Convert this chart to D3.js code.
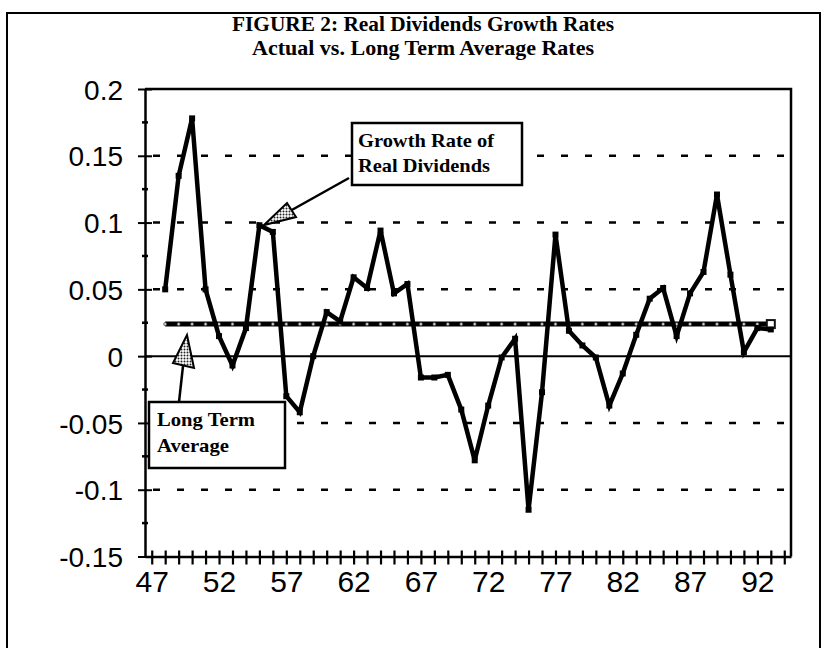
<!DOCTYPE html>
<html><head><meta charset="utf-8">
<script src="https://cdn.jsdelivr.net/npm/d3@7"></script>
<style>
html,body{margin:0;padding:0;background:#fff;}
svg{display:block;}
</style></head>
<body>
<svg id="chart" width="823" height="648"></svg>
<script>
// ---- data ----
const axisYears = [47,48,49,50,51,52,53,54,55,56,57,58,59,60,61,62,63,64,65,66,67,68,69,70,71,72,73,74,75,76,77,78,79,80,81,82,83,84,85,86,87,88,89,90,91,92,93,94];
const dataYears = [48,49,50,51,52,53,54,55,56,57,58,59,60,61,62,63,64,65,66,67,68,69,70,71,72,73,74,75,76,77,78,79,80,81,82,83,84,85,86,87,88,89,90,91,92,93];
const growthRates = [0.050,0.135,0.178,0.050,0.015,-0.007,0.021,0.098,0.093,-0.030,
  -0.042,0.000,0.033,0.026,0.059,0.051,0.094,0.047,0.054,-0.016,
  -0.016,-0.014,-0.040,-0.078,-0.037,-0.001,0.013,-0.115,-0.027,0.091,
  0.019,0.008,-0.001,-0.037,-0.013,0.016,0.043,0.051,0.015,0.047,
  0.063,0.121,0.061,0.003,0.021,0.020];
const longTermAverage = 0.024;
const xTickLabels = [47,52,57,62,67,72,77,82,87,92];
const yTicks = [0.2,0.15,0.1,0.05,0,-0.05,-0.1,-0.15];
const yMinorTicks = [0.175,0.125,0.075,0.025,-0.025,-0.075,-0.125];
const gridValues = [0.15,0.1,0.05,-0.05,-0.1];
const titleLines = ["FIGURE 2: Real Dividends Growth Rates","Actual vs. Long Term Average Rates"];

// ---- layout ----
const svg = d3.select("#chart");
const L = 145, R = 791, T = 89, B = 556.5;
const x = d3.scalePoint().domain(axisYears).range([L, R]).padding(0.5);
const y = d3.scaleLinear().domain([-0.15, 0.2]).range([B, T]);

const defs = svg.append("defs");
const pat = defs.append("pattern").attr("id","dots").attr("width",3).attr("height",3).attr("patternUnits","userSpaceOnUse");
pat.append("rect").attr("width",3).attr("height",3).attr("fill","#fff");
pat.append("circle").attr("cx",1.5).attr("cy",1.5).attr("r",1).attr("fill","#222");

// outer frame
svg.append("rect").attr("x",7).attr("y",13).attr("width",813).attr("height",700)
  .attr("fill","none").attr("stroke","#000").attr("stroke-width",2);

// title
svg.selectAll("text.title").data(titleLines).join("text")
  .attr("class","title")
  .attr("x",423).attr("y",(d,i)=>31+i*24)
  .attr("text-anchor","middle")
  .attr("font-family","'Liberation Serif','Times New Roman',serif")
  .attr("font-weight","bold").attr("font-size",22)
  .attr("textLength",(d,i)=> i===0 ? 382 : 342)
  .attr("lengthAdjust","spacingAndGlyphs")
  .text(d=>d);

// gridlines
svg.append("g").selectAll("line").data(gridValues).join("line")
  .attr("x1",L).attr("x2",R).attr("y1",d=>y(d)).attr("y2",d=>y(d))
  .attr("stroke","#000").attr("stroke-width",2.5).attr("stroke-dasharray","7,17")
  .attr("stroke-dashoffset",-8);

// plot border (top, right)
svg.append("path").attr("d",`M${L},${T}H${R}V${B}`).attr("fill","none").attr("stroke","#000").attr("stroke-width",2.5);

// zero line
svg.append("line").attr("x1",L).attr("x2",R).attr("y1",y(0)).attr("y2",y(0))
  .attr("stroke","#000").attr("stroke-width",2);

// y axis
const yAxis = d3.axisLeft(y).tickValues(yTicks).tickSize(0).tickPadding(22)
  .tickFormat(d=> d===0 ? "0" : String(+d.toFixed(2)));
const gy = svg.append("g").attr("transform",`translate(${L},0)`).call(yAxis);
gy.select(".domain").attr("stroke","#000").attr("stroke-width",2.5);
gy.selectAll(".tick text").attr("font-family","'Liberation Sans',Arial,sans-serif")
  .attr("font-size",28).attr("fill","#000").attr("dy","0.36em");
gy.selectAll(".tick").append("line").attr("x1",-7).attr("x2",7).attr("stroke","#000").attr("stroke-width",2);
gy.append("g").selectAll("line").data(yMinorTicks).join("line")
  .attr("x1",-3).attr("x2",3).attr("y1",d=>y(d)).attr("y2",d=>y(d))
  .attr("stroke","#000").attr("stroke-width",2.5);

// x axis
const xAxis = d3.axisBottom(x).tickSize(0).tickPadding(14)
  .tickFormat(d=> xTickLabels.includes(d) ? String(d) : "");
const gx = svg.append("g").attr("transform",`translate(0,${B})`).call(xAxis);
gx.select(".domain").attr("stroke","#000").attr("stroke-width",2.5);
gx.selectAll(".tick text").attr("font-family","'Liberation Sans',Arial,sans-serif")
  .attr("font-size",30).attr("fill","#000").attr("dy","0.71em");
gx.selectAll(".tick").append("line").attr("y1",-6).attr("y2",8).attr("stroke","#000").attr("stroke-width",2.2);

// long term average series
const avgData = dataYears.map(yr => ({yr, v: longTermAverage}));
svg.append("path").datum(avgData)
  .attr("d", d3.line().x(d=>x(d.yr)).y(d=>y(d.v)))
  .attr("fill","none").attr("stroke","#000").attr("stroke-width",5);
svg.append("g").selectAll("circle").data(avgData).join("circle")
  .attr("cx",d=>x(d.yr)).attr("cy",d=>y(d.v)).attr("r",1.6)
  .attr("fill","#ccc").attr("stroke","#333").attr("stroke-width",0.6);
svg.append("rect").attr("x",x(93)-4).attr("y",y(longTermAverage)-4).attr("width",8).attr("height",8)
  .attr("fill","#fff").attr("stroke","#111").attr("stroke-width",2);

// growth series
const growth = dataYears.map((yr,i)=>({yr, v: growthRates[i]}));
svg.append("path").datum(growth)
  .attr("d", d3.line().x(d=>x(d.yr)).y(d=>y(d.v)))
  .attr("fill","none").attr("stroke","#000").attr("stroke-width",4.5)
  .attr("stroke-linejoin","miter");
svg.append("g").selectAll("rect").data(growth).join("rect")
  .attr("x",d=>x(d.yr)-3).attr("y",d=>y(d.v)-3).attr("width",6).attr("height",6)
  .attr("fill","#000");

// callout: Growth Rate of Real Dividends
const c1 = svg.append("g");
c1.append("line").attr("x1",349).attr("y1",178).attr("x2",290).attr("y2",211)
  .attr("stroke","#000").attr("stroke-width",2.5);
c1.append("path").attr("d","M264,225 L287,203 L296,217 Z")
  .attr("fill","url(#dots)").attr("stroke","#000").attr("stroke-width",2);
c1.append("rect").attr("x",352).attr("y",123).attr("width",170).attr("height",62)
  .attr("fill","#fff").attr("stroke","#000").attr("stroke-width",2.5);
c1.selectAll("text").data(["Growth Rate of","Real Dividends"]).join("text")
  .attr("x",358).attr("y",(d,i)=>147+i*25)
  .attr("font-family","'Liberation Serif','Times New Roman',serif")
  .attr("font-weight","bold").attr("font-size",19)
  .attr("textLength",(d,i)=> i===0 ? 136 : 132).attr("lengthAdjust","spacingAndGlyphs")
  .text(d=>d);

// callout: Long Term Average
const c2 = svg.append("g");
c2.append("line").attr("x1",179).attr("y1",402).attr("x2",183).attr("y2",366)
  .attr("stroke","#000").attr("stroke-width",2.5);
c2.append("path").attr("d","M187,335 L173,363 L194,368 Z")
  .attr("fill","url(#dots)").attr("stroke","#000").attr("stroke-width",2);
c2.append("rect").attr("x",149).attr("y",402).attr("width",136).attr("height",66)
  .attr("fill","#fff").attr("stroke","#000").attr("stroke-width",2.5);
c2.selectAll("text").data(["Long Term","Average"]).join("text")
  .attr("x",157).attr("y",(d,i)=>426+i*26)
  .attr("font-family","'Liberation Serif','Times New Roman',serif")
  .attr("font-weight","bold").attr("font-size",19)
  .attr("textLength",(d,i)=> i===0 ? 98 : 72).attr("lengthAdjust","spacingAndGlyphs")
  .text(d=>d);
</script>
</body></html>
